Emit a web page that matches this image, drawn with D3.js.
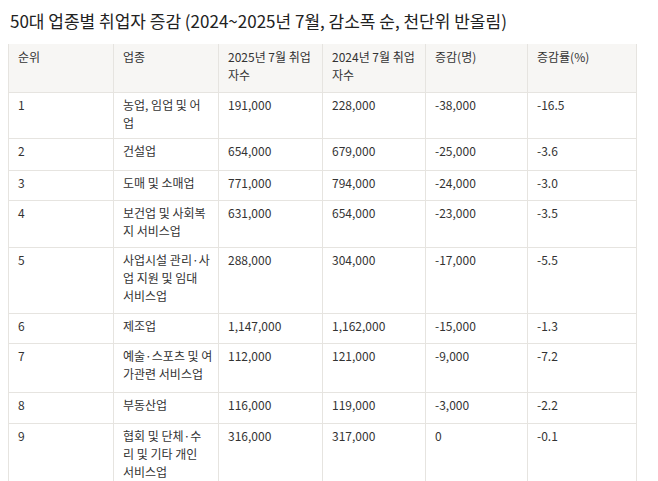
<!DOCTYPE html><html><head><meta charset="utf-8"><script src="https://cdn.jsdelivr.net/npm/d3@7"></script>
<style>body{margin:0;background:#fff}</style></head><body><svg id="c" width="658" height="481"></svg>
<script>
const title="50대 업종별 취업자 증감 (2024~2025년 7월, 감소폭 순, 천단위 반올림)";
const headers=[["순위"],["업종"],["2025년 7월 취업","자수"],["2024년 7월 취업","자수"],["증감(명)"],["증감률(%)"]];
const ranks=["1","2","3","4","5","6","7","8","9"];
const industries=[["농업, 임업 및 어","업"],["건설업"],["도매 및 소매업"],["보건업 및 사회복","지 서비스업"],["사업시설 관리·사","업 지원 및 임대","서비스업"],["제조업"],["예술·스포츠 및 여","가관련 서비스업"],["부동산업"],["협회 및 단체·수","리 및 기타 개인","서비스업"]];
const emp2025=[191000,654000,771000,631000,288000,1147000,112000,116000,316000];
const emp2024=[228000,679000,794000,654000,304000,1162000,121000,119000,317000];
const change=[-38000,-25000,-24000,-23000,-17000,-15000,-9000,-3000,0];
const rate=["-16.5","-3.6","-3.0","-3.5","-5.5","-1.3","-7.2","-2.2","-0.1"];
const svg=d3.select("#c");
const F="'Noto Sans CJK KR','Noto Sans',sans-serif";
svg.append("text").attr("x",10).attr("y",28).attr("font-family",F).attr("font-size",17).attr("fill","#222").text(title);
const colX=[8,113,218,322,425,527,636];
const rowB=[44,92,138,170,200,247,313,343,392,423,490];
svg.append("rect").attr("x",8).attr("y",44).attr("width",628).attr("height",48).attr("fill","#f7f6f4");
const fmt=v=>d3.format(",")(v).replace("−","-");
const rows=[headers].concat(ranks.map((r,i)=>[[r],industries[i],[fmt(emp2025[i])],[fmt(emp2024[i])],[fmt(change[i])],[rate[i]]]));
rows.forEach((row,ri)=>{
  row.forEach((lines,ci)=>{
    lines.forEach((t,li)=>svg.append("text").attr("x",colX[ci]+10).attr("y",rowB[ri]+18+li*18)
      .attr("font-family",F).attr("font-size",12).attr("fill","#333").text(t));
  });
});
const g=svg.append("g").attr("stroke","#e6e4e0").attr("stroke-width",1);
rowB.slice(1,10).forEach(y=>g.append("line").attr("x1",8).attr("x2",636).attr("y1",y+.5).attr("y2",y+.5));
colX.forEach(x=>g.append("line").attr("x1",x+.5).attr("x2",x+.5).attr("y1",44).attr("y2",481));
</script></body></html>
